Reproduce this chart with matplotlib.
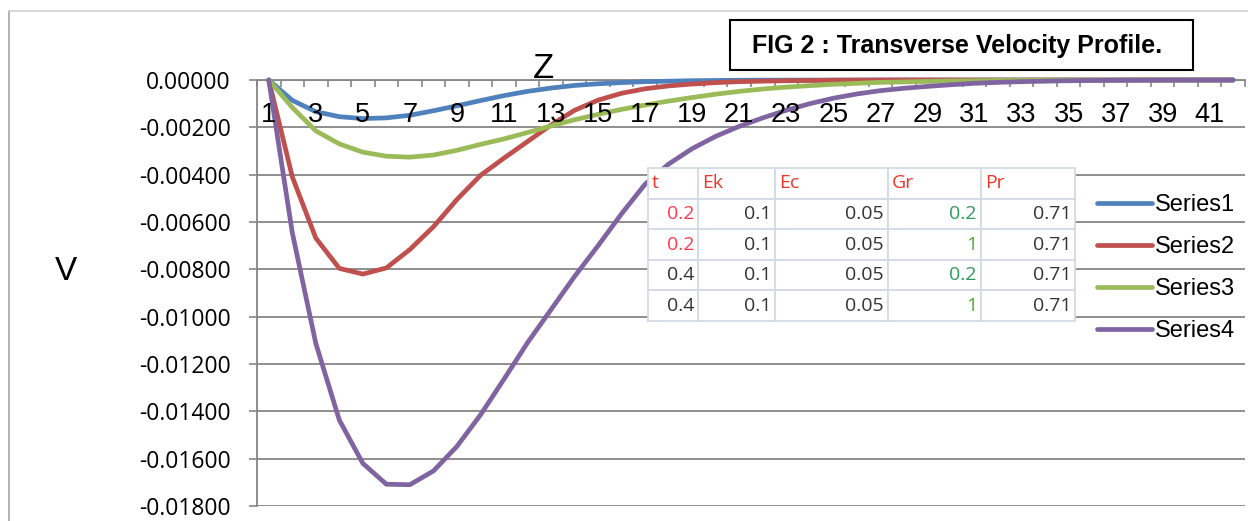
import numpy as np
import matplotlib
matplotlib.use("Agg")
import matplotlib.pyplot as plt
from matplotlib.lines import Line2D
from matplotlib.patches import Rectangle
from matplotlib import font_manager

# ---------------- data ----------------
cats = list(range(1, 43))

series1 = [0, -0.00086, -0.00134, -0.00155, -0.00163, -0.00160, -0.00149, -0.00130,
           -0.00109, -0.00087, -0.00066, -0.00048, -0.00034, -0.00023, -0.00016, -0.00011,
           -0.00007, -0.00005, -0.00003, -0.00002, -0.00001, -0.000007, -0.000005, -0.000003,
           -0.000002, -0.000001, 0, 0, 0, 0, 0, 0, 0, 0, 0, 0, 0, 0, 0, 0, 0, 0]

series2 = [0, -0.00409, -0.00668, -0.00796, -0.00820, -0.00794, -0.00716, -0.00620,
           -0.00505, -0.00403, -0.00330, -0.00260, -0.00190, -0.00128, -0.00085, -0.00056,
           -0.00037, -0.00025, -0.00017, -0.00011, -0.00007, -0.00005, -0.00003, -0.00002,
           -0.00001, -0.000005, -0.000002, 0, 0, 0, 0, 0, 0, 0, 0, 0, 0, 0, 0, 0, 0, 0]

series3 = [0, -0.00116, -0.00215, -0.00270, -0.00305, -0.00322, -0.00326, -0.00317,
           -0.00297, -0.00272, -0.00249, -0.00222, -0.00194, -0.00168, -0.00145, -0.00124,
           -0.00106, -0.00089, -0.00074, -0.00060, -0.00048, -0.00038, -0.00030, -0.00024,
           -0.00018, -0.00014, -0.00010, -0.00008, -0.00006, -0.00004, -0.00003, -0.00002,
           -0.00001, -0.000007, -0.000005, -0.000003, -0.000002, -0.000001, 0, 0, 0, 0]

series4 = [0, -0.00645, -0.01113, -0.01437, -0.01620, -0.01708, -0.01710, -0.01652,
           -0.01548, -0.01415, -0.01264, -0.01110, -0.00970, -0.00830, -0.00700, -0.00565,
           -0.00440, -0.00355, -0.00290, -0.00238, -0.00196, -0.00160, -0.00128, -0.00100,
           -0.00077, -0.00059, -0.00045, -0.00035, -0.00027, -0.00020, -0.00014, -0.00010,
           -0.00007, -0.00005, -0.00003, -0.00002, -0.00001, -0.000006, -0.000004, -0.000002,
           -0.000001, 0]

series_names = ["Series1", "Series2", "Series3", "Series4"]
series_colors = ["#4F81BD", "#C0504D", "#9BBB59", "#8064A2"]

y_ticks = [0.0, -0.002, -0.004, -0.006, -0.008, -0.010, -0.012, -0.014, -0.016, -0.018]
y_tick_labels = ["0.00000", "-0.00200", "-0.00400", "-0.00600", "-0.00800",
                 "-0.01000", "-0.01200", "-0.01400", "-0.01600", "-0.01800"]
x_label_cats = list(range(1, 42, 2))

table_cols = ["t", "Ek", "Ec", "Gr", "Pr"]
table_rows = [["0.2", "0.1", "0.05", "0.2", "0.71"],
              ["0.2", "0.1", "0.05", "1", "0.71"],
              ["0.4", "0.1", "0.05", "0.2", "0.71"],
              ["0.4", "0.1", "0.05", "1", "0.71"]]

title_text = "FIG 2 : Transverse Velocity Profile."
x_axis_title = "Z"
y_axis_title = "V"

# ---------------- fonts ----------------
names = {f.name for f in font_manager.fontManager.ttflist}
narrow = "Liberation Sans Narrow" if "Liberation Sans Narrow" in names else "Liberation Sans"
body = "Open Sans" if "Open Sans" in names else "DejaVu Sans"

# ---------------- layout ----------------
W, H = 1248, 521
fig = plt.figure(figsize=(W / 100, H / 100), dpi=100)
fig.patch.set_facecolor("white")


def fx(px):
    return px / W


def fy(py):
    return 1 - py / H


GRID = "#868686"

# chart-area border
fig.add_artist(Line2D([fx(9), fx(9)], [fy(11), fy(521)], color="#a6a6a6", lw=1.2))
fig.add_artist(Line2D([fx(9), fx(1248)], [fy(11), fy(11)], color="#d0d0d0", lw=1.2))

ax = fig.add_axes([fx(257), fy(506), fx(1245) - fx(257), fy(80) - fy(506)])
ax.set_facecolor("none")
ax.set_xlim(cats[0] - 0.5, cats[-1] + 0.5)
ax.set_ylim(y_ticks[-1], y_ticks[0])

ax.set_yticks(y_ticks)
ax.set_yticklabels(y_tick_labels, fontsize=16.5, family=body, color="#000000")
ax.yaxis.grid(True, color=GRID, lw=1.3)
ax.set_axisbelow(True)
ax.tick_params(axis="y", direction="out", length=6, width=1.2, color=GRID, pad=13)

bounds = [c - 0.5 for c in cats] + [cats[-1] + 0.5]
ax.set_xticks(bounds)
ax.xaxis.set_ticks_position("top")
ax.tick_params(axis="x", direction="in", length=5, width=1.2, color=GRID,
               labeltop=False, labelbottom=False)

for side in ["right", "bottom"]:
    ax.spines[side].set_visible(False)
for side in ["left", "top"]:
    ax.spines[side].set_color(GRID)
    ax.spines[side].set_linewidth(1.3)

handles = []
for vals, name, col in zip([series1, series2, series3, series4], series_names, series_colors):
    ln, = ax.plot(cats, vals, color=col, lw=3.4, solid_joinstyle="round",
                  solid_capstyle="round", clip_on=False, zorder=3, label=name)
    handles.append(ln)

for c in x_label_cats:
    ax.annotate(str(c), xy=(c, 0), xycoords="data", xytext=(0, -35),
                textcoords="offset pixels", ha="center", va="center",
                fontsize=19.5, family=narrow, color="#000000", zorder=4)

# axis titles
fig.text(fx(543), fy(69), x_axis_title, fontsize=25, family=narrow, ha="center", va="center")
fig.text(fx(66), fy(272), y_axis_title, fontsize=24, family=narrow, ha="center", va="center")

# title box
fig.add_artist(Rectangle((fx(730), fy(70)), fx(1193) - fx(730), fy(20) - fy(70),
                         transform=fig.transFigure, facecolor="white",
                         edgecolor="#000000", lw=1.5))
fig.text(fx(752), fy(46), title_text, fontsize=18, family=narrow, weight="bold",
         ha="left", va="center")

# legend
leg = ax.legend(handles, series_names, loc="center left",
                bbox_to_anchor=(fx(1097), fy(268)), bbox_transform=fig.transFigure,
                frameon=False, handlelength=2.35, handletextpad=0.12,
                labelspacing=0.85, borderpad=0, borderaxespad=0,
                prop={"family": narrow, "size": 17})
for t in leg.get_texts():
    t.set_color("#000000")

# data table
ax_x0, ax_x1, ax_y0, ax_y1 = 257, 1245, 506, 80
tx0, tx1, ty0, ty1 = 648, 1075, 321, 168
col_px = [50, 77, 113, 93, 94]
bbox = [(tx0 - ax_x0) / (ax_x1 - ax_x0), (ax_y0 - ty0) / (ax_y0 - ax_y1),
        (tx1 - tx0) / (ax_x1 - ax_x0), (ty0 - ty1) / (ax_y0 - ax_y1)]
tbl = ax.table(cellText=table_rows, colLabels=table_cols, cellLoc="right",
               colLoc="left", colWidths=[c / sum(col_px) for c in col_px], bbox=bbox)
tbl.auto_set_font_size(False)
tbl.set_fontsize(14)
tbl.set_zorder(6)
header_color = "#f0352c"
text_dark = "#333333"
for (r, c), cell in tbl.get_celld().items():
    cell.set_edgecolor("#d3dae6")
    cell.set_linewidth(1.3)
    cell.set_facecolor("white")
    cell.PAD = 4.0 / col_px[c]
    txt = cell.get_text()
    txt.set_fontfamily(body)
    if r == 0:
        txt.set_color(header_color)
    else:
        val = table_rows[r - 1][c]
        if c == 0 and val == "0.2":
            txt.set_color("#ff3a4f")
        elif c == 3:
            txt.set_color("#2e9a5a" if val == "0.2" else "#4caa2a")
        else:
            txt.set_color(text_dark)

fig.savefig("out.png", dpi=100, facecolor="white")
